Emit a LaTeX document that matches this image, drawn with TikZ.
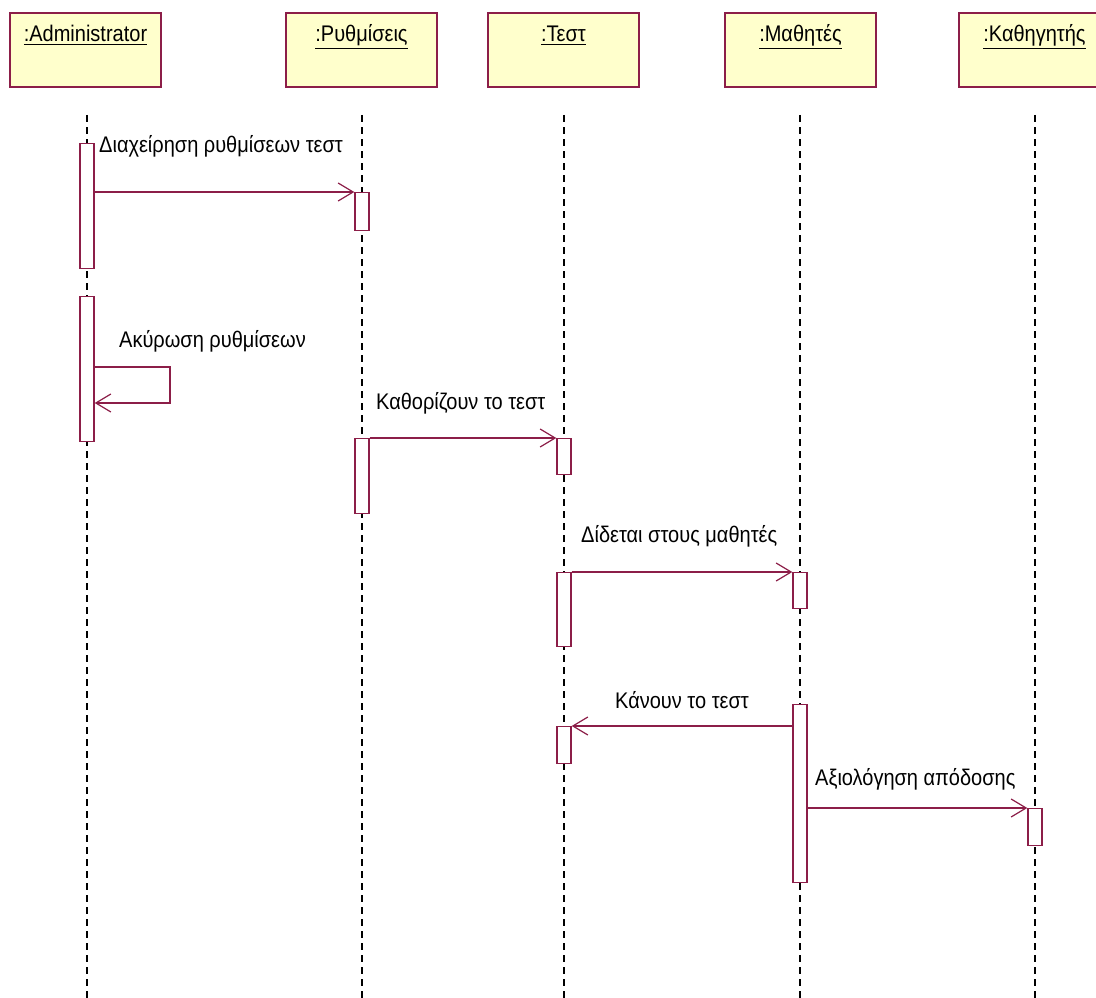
\documentclass[tikz,border=0pt]{standalone}
\usepackage{fontspec}
\usepackage{graphicx}
\setmainfont{Liberation Sans}
\usetikzlibrary{arrows.meta}
\definecolor{umlline}{RGB}{140,30,72}
\definecolor{umlfill}{RGB}{255,255,204}
% text set slightly taller than wide
\newcommand{\tallt}[1]{\scalebox{1}[1.13]{#1}}
\begin{document}
\begin{tikzpicture}[x=1pt,y=-1pt,
  objbox/.style={draw=umlline, fill=umlfill, line width=1.8pt, rectangle,
                 minimum width=151pt, minimum height=74pt, inner sep=0pt},
  objname/.style={font=\fontsize{20}{22}\selectfont, anchor=base, inner sep=0pt},
  lifeline/.style={draw=black, line width=1.5pt, dash pattern=on 7pt off 5pt},
  actbar/.style={draw=umlline, fill=white, line width=1.4pt, rectangle,
                 minimum width=14pt, inner sep=0pt},
  msg/.style={draw=umlline, line width=1.4pt,
              -{Straight Barb[length=15pt,width=18pt,line width=1.2pt]}},
  msglabel/.style={font=\fontsize{20}{22}\selectfont, anchor=base west, inner sep=0pt}]
\clip (0,0) rectangle (1096,998);
\fill[white] (0,0) rectangle (1096,998);

% object boxes
\node[objbox] (admin) at (85.5,50) {};
\node[objbox] (rythm) at (361.5,50) {};
\node[objbox] (test)  at (563.5,50) {};
\node[objbox] (math)  at (800.5,50) {};
\node[objbox] (kath)  at (1034.5,50) {};
\node[objname] (admin-n) at (85.5,42) {\tallt{\underline{:Administrator}}};
\node[objname] (rythm-n) at (361.5,42) {\tallt{\underline{:Ρυθμίσεις}}};
\node[objname] (test-n)  at (563.5,42) {\tallt{\underline{:Τεστ}}};
\node[objname] (math-n)  at (800.5,42) {\tallt{\underline{:Μαθητές}}};
\node[objname] (kath-n)  at (1034.5,42) {\tallt{\underline{:Καθηγητής}}};

% lifelines
\coordinate (admin-s) at (87,115);   \coordinate (admin-e) at (87,1000);
\coordinate (rythm-s) at (362,115);  \coordinate (rythm-e) at (362,1000);
\coordinate (test-s)  at (564,115);  \coordinate (test-e)  at (564,1000);
\coordinate (math-s)  at (800,115);  \coordinate (math-e)  at (800,1000);
\coordinate (kath-s)  at (1035,115); \coordinate (kath-e)  at (1035,1000);
\draw[lifeline] (admin-s) -- (admin-e);
\draw[lifeline] (rythm-s) -- (rythm-e);
\draw[lifeline] (test-s) -- (test-e);
\draw[lifeline] (math-s) -- (math-e);
\draw[lifeline] (kath-s) -- (kath-e);

% activation bars
\node[actbar, minimum height=125pt, anchor=north] (a1) at (87,143) {};
\node[actbar, minimum height=145pt, anchor=north] (a2) at (87,296) {};
\node[actbar, minimum height=38pt,  anchor=north] (r1) at (362,192) {};
\node[actbar, minimum height=75pt,  anchor=north] (r2) at (362,438) {};
\node[actbar, minimum height=36pt,  anchor=north] (t1) at (564,438) {};
\node[actbar, minimum height=74pt,  anchor=north] (t2) at (564,572) {};
\node[actbar, minimum height=37pt,  anchor=north] (t3) at (564,726) {};
\node[actbar, minimum height=36pt,  anchor=north] (m1) at (800,572) {};
\node[actbar, minimum height=178pt, anchor=north] (m2) at (800,704) {};
\node[actbar, minimum height=37pt,  anchor=north] (k1) at (1035,808) {};

% messages
\draw[msg] (a1.east |- r1.north) -- (r1.north west);
\draw[msg] (a2.east |- 0,367) -| (170,403) -- (a2.east |- 0,403);
\draw[msg] (r2.north east) -- (t1.north west);
\draw[msg] (t2.north east) -- (m1.north west);
\draw[msg] (m2.west |- t3.north) -- (t3.north east);
\draw[msg] (m2.east |- k1.north) -- (k1.north west);

% message labels
\node[msglabel] (l1) at (99,153) {\tallt{Διαχείρηση ρυθμίσεων τεστ}};
\node[msglabel] (l2) at (119,347) {\tallt{Ακύρωση ρυθμίσεων}};
\node[msglabel] (l3) at (376,409) {\tallt{Καθορίζουν το τεστ}};
\node[msglabel] (l4) at (581,542) {\tallt{Δίδεται στους μαθητές}};
\node[msglabel] (l5) at (615,708) {\tallt{Κάνουν το τεστ}};
\node[msglabel] (l6) at (815,785) {\tallt{Αξιολόγηση απόδοσης}};
\end{tikzpicture}
\end{document}
